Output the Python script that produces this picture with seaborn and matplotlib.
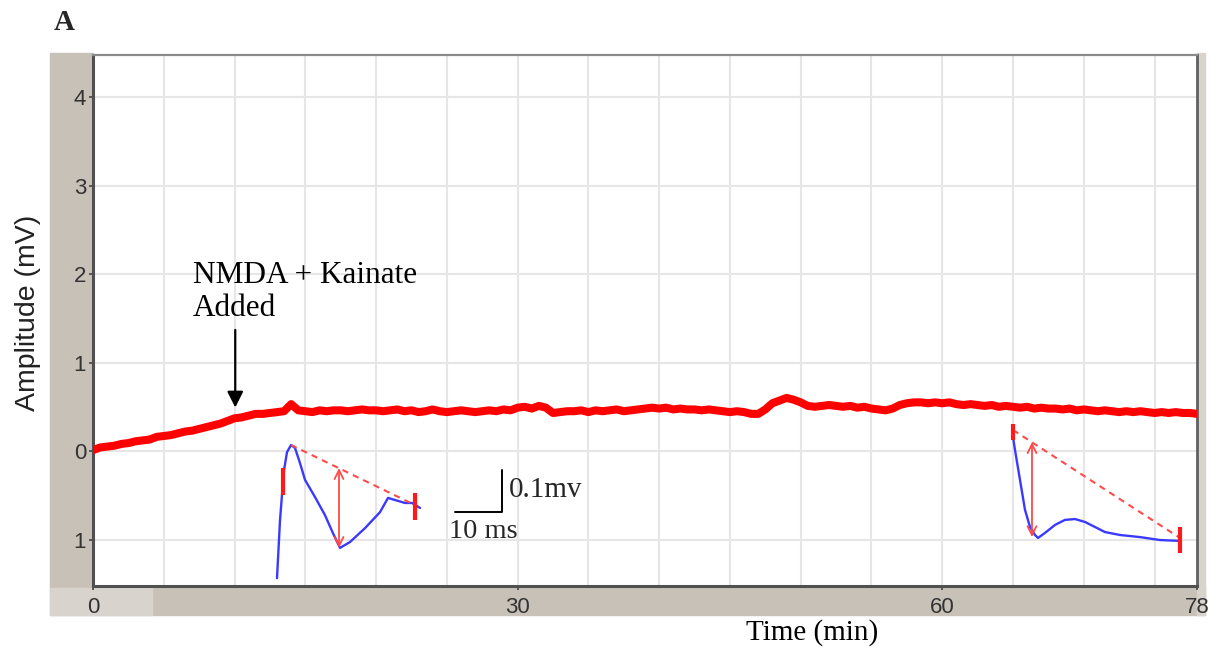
import numpy as np
import pandas as pd
import matplotlib
matplotlib.use("Agg")
import matplotlib.pyplot as plt
from matplotlib.patches import Rectangle
import seaborn as sns

# ---------------- data ----------------
time_min = np.arange(0, 78.01, 0.5)
amplitude_mv = [
    0.01, 0.04, 0.05, 0.06, 0.08, 0.09, 0.11, 0.12, 0.13, 0.16, 0.17, 0.18, 0.20, 0.22, 0.23, 0.25,
    0.27, 0.29, 0.31, 0.34, 0.37, 0.38, 0.40, 0.42, 0.42,
    0.43, 0.44, 0.45, 0.53, 0.46, 0.45, 0.44, 0.46, 0.45, 0.46, 0.46, 0.45, 0.46, 0.47, 0.46, 0.46,
    0.45, 0.46, 0.47, 0.45, 0.46, 0.44, 0.45, 0.47, 0.45, 0.44, 0.45, 0.46, 0.45, 0.44, 0.45, 0.46,
    0.45, 0.47, 0.46, 0.49,
    0.50, 0.48, 0.51, 0.49, 0.43, 0.44, 0.45, 0.45, 0.46, 0.44, 0.46, 0.45, 0.46, 0.47, 0.45, 0.46,
    0.47, 0.48, 0.49, 0.48,
    0.49, 0.47, 0.48, 0.47, 0.47, 0.46, 0.47, 0.46, 0.45, 0.44, 0.45, 0.44, 0.42, 0.42, 0.47, 0.54,
    0.57, 0.60, 0.58, 0.55,
    0.51, 0.50, 0.51, 0.52, 0.51, 0.50, 0.51, 0.49, 0.50, 0.48, 0.47, 0.46, 0.48, 0.52, 0.54, 0.55,
    0.55, 0.54, 0.55, 0.54,
    0.55, 0.53, 0.52, 0.53, 0.52, 0.51, 0.52, 0.50, 0.51, 0.50, 0.49, 0.50, 0.48, 0.49, 0.48, 0.48,
    0.47, 0.48, 0.46, 0.47,
    0.46, 0.45, 0.46, 0.45, 0.44, 0.45, 0.44, 0.45, 0.44, 0.43, 0.44, 0.43, 0.44, 0.43, 0.43, 0.42,
]
ytick_values = [-1, 0, 1, 2, 3, 4]
ytick_labels = ["1", "0", "1", "2", "3", "4"]
xtick_values = [0, 30, 60, 78]
xtick_labels = ["0", "30", "60", "78"]

# inset 1 (early field potential), ms / mV
fp1_ms = [0, 0.64, 1.06, 1.49, 2.13, 2.98, 3.83, 4.89, 5.96, 8.09, 10.21, 11.91, 13.40, 15.53,
          18.72, 21.91, 23.62, 25.11, 27.23, 28.72, 30.43]
fp1_mv = [-0.317, -0.179, -0.119, -0.060, -0.017, 0.0, -0.007, -0.043, -0.083, -0.124, -0.167,
          -0.210, -0.245, -0.231, -0.198, -0.160, -0.126, -0.131, -0.138, -0.138, -0.150]
fp1_base_ms = [2.98, 29.36]
fp1_base_mv = [0.0, -0.143]
fp1_amp_ms = 13.19
fp1_amp_mv = [-0.055, -0.245]
fp1_mark_ms = [1.28, 29.36]
fp1_mark_mv = [(-0.055, -0.119), (-0.114, -0.179)]

# inset 2 (late field potential), ms / mV
fp2_ms = [0, 0.43, 1.49, 2.55, 3.62, 4.68, 5.32, 6.81, 8.94, 11.06, 13.19, 15.32, 17.45, 19.57,
          22.77, 27.02, 31.28, 35.53]
fp2_mv = [-0.017, -0.048, -0.119, -0.190, -0.231, -0.250, -0.257, -0.245, -0.226, -0.214, -0.212,
          -0.219, -0.231, -0.243, -0.250, -0.255, -0.262, -0.264]
fp2_base_ms = [0.0, 35.53]
fp2_base_mv = [0.0, -0.257]
fp2_amp_ms = 4.04
fp2_amp_mv = [-0.029, -0.255]
fp2_mark_ms = [0.0, 35.53]
fp2_mark_mv = [(0.014, -0.024), (-0.231, -0.293)]

# scale bar (10 ms x 0.1 mV)
scalebar_ms = [37.87, 47.87, 47.87]
scalebar_mv = [-0.160, -0.160, -0.060]

# ---------------- figure ----------------
sns.set_theme(style="white")
plt.rcParams["font.family"] = ["Liberation Sans", "DejaVu Sans"]

W, H = 1211, 652
fig = plt.figure(figsize=(W / 100, H / 100), dpi=100)
fig.patch.set_facecolor("white")


def fx(px):
    return px / W


def fy(py):
    return 1 - py / H


panel = "#c8c1b8"
light = "#d8d3cc"
# window-like chrome
fig.add_artist(Rectangle((fx(50), fy(615)), fx(1205) - fx(50), fy(586) - fy(615),
                         transform=fig.transFigure, color=panel, zorder=-5))
fig.add_artist(Rectangle((fx(50), fy(615)), fx(152) - fx(50), fy(588) - fy(615),
                         transform=fig.transFigure, color=light, zorder=-4))
fig.add_artist(Rectangle((fx(50), fy(586)), fx(93) - fx(50), fy(53) - fy(586),
                         transform=fig.transFigure, color=panel, zorder=-5))
fig.add_artist(Rectangle((fx(1197), fy(615)), fx(1205) - fx(1197), fy(53) - fy(615),
                         transform=fig.transFigure, color=light, zorder=-5))

ax = fig.add_axes([fx(93), fy(586), fx(1197) - fx(93), fy(55) - fy(586)])
ax.set_facecolor("white")
ax.set_xlim(0, 78)
ax.set_ylim(-1.525, 4.475)

ax.set_yticks(ytick_values)
ax.set_yticklabels(ytick_labels)
ax.set_xticks(xtick_values)
ax.set_xticklabels(xtick_labels)
ax.grid(False)
for xv in np.arange(5, 78, 5):
    ax.axvline(xv, color="#e6e6e6", lw=1.5, zorder=0)
for yv in ytick_values:
    ax.axhline(yv, color="#e6e6e6", lw=1.5, zorder=0)

ax.tick_params(axis="y", left=True, length=3, width=1.2, color="#444444", pad=2,
               labelsize=16, labelcolor="#333333")
ax.tick_params(axis="x", bottom=True, length=3, width=1.2, color="#444444", pad=5,
               labelsize=16, labelcolor="#333333")

for side, c, w in [("left", "#505050", 2.2), ("bottom", "#505050", 2.2),
                   ("right", "#606060", 2.0), ("top", "#8a8a8a", 1.6)]:
    ax.spines[side].set_visible(True)
    ax.spines[side].set_color(c)
    ax.spines[side].set_linewidth(w)

df = pd.DataFrame({"Time (min)": time_min, "Amplitude (mV)": amplitude_mv})
sns.lineplot(data=df, x="Time (min)", y="Amplitude (mV)", ax=ax, color="#ff0000",
             lw=5.8, solid_capstyle="round", zorder=5)

ax.set_xlabel("Time (min)", family="Liberation Serif", fontsize=21, color="black")
ax.xaxis.set_label_coords((812 - 93) / 1104, (586 - 633) / 531)
ax.xaxis.label.set_va("center")
ax.set_ylabel("Amplitude (mV)", fontsize=20.5, color="#222222")
ax.yaxis.set_label_coords((28 - 93) / 1104, (586 - 313) / 531)
ax.yaxis.label.set_va("center")

# annotation
ax.text(7.05, 1.80, "NMDA + Kainate\nAdded", family="Liberation Serif", fontsize=22.5,
        ha="left", va="center", linespacing=1.2, color="black")
ax.annotate("", xy=(10.05, 0.46), xytext=(10.05, 1.40),
            arrowprops=dict(arrowstyle="-|>", color="black", lw=1.6, mutation_scale=24))

fig.text(fx(54), fy(22), "A", family="Liberation Serif", fontsize=21, fontweight="bold",
         va="center", ha="left")

red_soft = "#ff4a4a"
blue = "#3a3aff"

# inset 1
ax1 = fig.add_axes([fx(265), fy(585), fx(600) - fx(265), fy(425) - fy(585)])
ax1.set_xlim((265 - 277) / 4.7, (600 - 277) / 4.7)
ax1.set_ylim((445 - 585) / 420, (445 - 425) / 420)
ax1.set_axis_off()
sns.lineplot(x=fp1_ms, y=fp1_mv, ax=ax1, color=blue, lw=1.7, sort=False)
sns.lineplot(x=fp1_base_ms, y=fp1_base_mv, ax=ax1, color=red_soft, lw=1.5,
             linestyle=(0, (3, 2.5)))
ax1.annotate("", xy=(fp1_amp_ms, fp1_amp_mv[0]), xytext=(fp1_amp_ms, fp1_amp_mv[1]),
             arrowprops=dict(arrowstyle="<->", color=red_soft, lw=1.3, mutation_scale=16,
                             shrinkA=0, shrinkB=0))
for m_ms, (a, b) in zip(fp1_mark_ms, fp1_mark_mv):
    ax1.plot([m_ms, m_ms], [a, b], color="#ff1a1a", lw=3, solid_capstyle="butt")
ax1.plot(scalebar_ms, scalebar_mv, color="black", lw=1.4)
ax1.text(49.4, -0.108, "0.1mv", family="Liberation Serif", fontsize=21, ha="left", va="center")
ax1.text(43.8, -0.205, "10 ms", family="Liberation Serif", fontsize=20.5, ha="center", va="center")

# inset 2
ax2 = fig.add_axes([fx(1000), fy(560), fx(1195) - fx(1000), fy(415) - fy(560)])
ax2.set_xlim((1000 - 1013) / 4.7, (1195 - 1013) / 4.7)
ax2.set_ylim((430 - 560) / 420, (430 - 415) / 420)
ax2.set_axis_off()
sns.lineplot(x=fp2_ms, y=fp2_mv, ax=ax2, color=blue, lw=1.7, sort=False)
sns.lineplot(x=fp2_base_ms, y=fp2_base_mv, ax=ax2, color=red_soft, lw=1.5,
             linestyle=(0, (3, 2.5)))
ax2.annotate("", xy=(fp2_amp_ms, fp2_amp_mv[0]), xytext=(fp2_amp_ms, fp2_amp_mv[1]),
             arrowprops=dict(arrowstyle="<->", color=red_soft, lw=1.3, mutation_scale=16,
                             shrinkA=0, shrinkB=0))
for m_ms, (a, b) in zip(fp2_mark_ms, fp2_mark_mv):
    ax2.plot([m_ms, m_ms], [a, b], color="#ff1a1a", lw=3, solid_capstyle="butt")

fig.savefig("out.png", dpi=100)
